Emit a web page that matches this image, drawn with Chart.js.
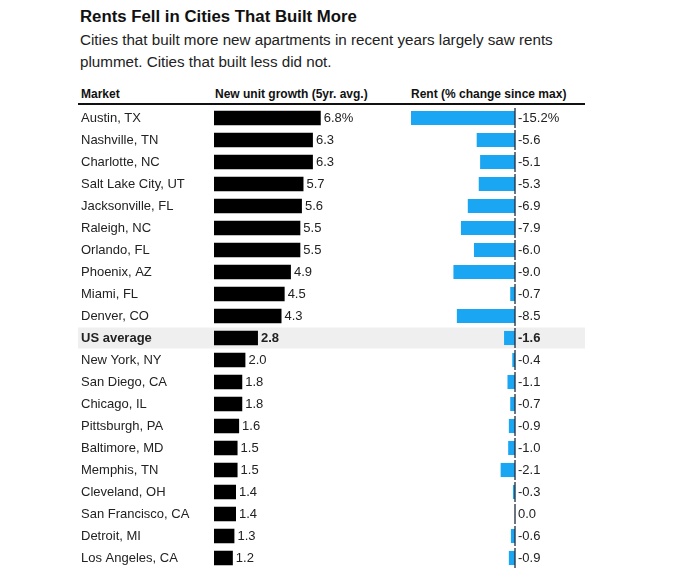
<!DOCTYPE html>
<html>
<head>
<meta charset="utf-8">
<script src="https://cdn.jsdelivr.net/npm/chart.js@4"></script>
<style>
body{margin:0;width:680px;height:568px;overflow:hidden;background:#fff;font-family:"Liberation Sans",Arial,sans-serif;color:#111;position:relative}
#titulo{position:absolute;left:80px;top:7px;font-size:16.8px;font-weight:bold;white-space:nowrap}
#subtitulo{position:absolute;left:80px;top:29px;font-size:15.2px;line-height:22px;width:520px;color:#222}
.cab{position:absolute;top:87px;font-size:12px;font-weight:bold;white-space:nowrap}
#linea{position:absolute;left:78px;top:103px;width:507px;height:2px;background:#111}
#grafico{position:absolute;left:0;top:107px;width:680px;height:462px}
</style>
</head>
<body>
<div id="titulo">Rents Fell in Cities That Built More</div>
<div id="subtitulo">Cities that built more new apartments in recent years largely saw rents plummet. Cities that built less did not.</div>
<div class="cab" style="left:81px">Market</div>
<div class="cab" style="left:215px">New unit growth (5yr. avg.)</div>
<div class="cab" style="left:411px">Rent (% change since max)</div>
<div id="linea"></div>
<div id="grafico"><canvas id="bar-chart"></canvas></div>
<script>
var mercados=['Austin, TX','Nashville, TN','Charlotte, NC','Salt Lake City, UT','Jacksonville, FL','Raleigh, NC','Orlando, FL','Phoenix, AZ','Miami, FL','Denver, CO','US average','New York, NY','San Diego, CA','Chicago, IL','Pittsburgh, PA','Baltimore, MD','Memphis, TN','Cleveland, OH','San Francisco, CA','Detroit, MI','Los Angeles, CA'];
var crecimiento=[6.8,6.3,6.3,5.7,5.6,5.5,5.5,4.9,4.5,4.3,2.8,2.0,1.8,1.8,1.6,1.5,1.5,1.4,1.4,1.3,1.2];
var renta=[-15.2,-5.6,-5.1,-5.3,-6.9,-7.9,-6.0,-9.0,-0.7,-8.5,-1.6,-0.4,-1.1,-0.7,-0.9,-1.0,-2.1,-0.3,0.0,-0.6,-0.9];
var filaPromedio=10;

var fuente='"Liberation Sans", Arial, sans-serif';

// fondo gris de la fila promedio, linea cero y etiquetas de valor
var extras={
  id:'extras',
  beforeDraw:function(chart){
    var ctx=chart.ctx, y=chart.scales.y;
    var yc=y.getPixelForValue(filaPromedio);
    ctx.save();
    ctx.fillStyle='#efefef';
    ctx.fillRect(78,yc-10.5,507,21);
    ctx.restore();
  },
  afterDatasetsDraw:function(chart){
    var ctx=chart.ctx, y=chart.scales.y, x1=chart.scales.x1, x2=chart.scales.x2;
    var x0=x2.getPixelForValue(0);
    ctx.save();
    ctx.strokeStyle='#1d2b3a';
    ctx.lineWidth=1.3;
    for(var i=0;i<mercados.length;i++){
      var yc=y.getPixelForValue(i);
      ctx.beginPath();ctx.moveTo(x0,yc-10);ctx.lineTo(x0,yc+10);ctx.stroke();
    }
    ctx.textBaseline='middle';
    ctx.textAlign='left';
    ctx.fillStyle='#222';
    for(var i=0;i<mercados.length;i++){
      var yc=y.getPixelForValue(i)+0.5;
      ctx.font=(i==filaPromedio?'bold ':'')+'13px '+fuente;
      var t1=crecimiento[i].toFixed(1)+(i==0?'%':'');
      var t2=renta[i].toFixed(1)+(i==0?'%':'');
      ctx.fillText(t1,x1.getPixelForValue(crecimiento[i])+3,yc);
      ctx.fillText(t2,x0+3,yc);
    }
    ctx.restore();
  }
};

var barra=new Chart(document.getElementById('bar-chart'),{
  type:'bar',
  data:{
    labels:mercados,
    datasets:[
      {label:'New unit growth',data:crecimiento,xAxisID:'x1',backgroundColor:'#000',barPercentage:0.66,categoryPercentage:1,grouped:false},
      {label:'Rent change',data:renta,xAxisID:'x2',backgroundColor:'#1ba6f3',barPercentage:0.64,categoryPercentage:1,grouped:false}
    ]
  },
  options:{
    indexAxis:'y',
    responsive:true,
    maintainAspectRatio:false,
    animation:false,
    layout:{padding:{left:81,right:95,top:0,bottom:0}},
    plugins:{legend:{display:false},tooltip:{enabled:false}},
    scales:{
      y:{
        grid:{display:false,drawTicks:false},
        border:{display:false},
        ticks:{
          crossAlign:'far',padding:0,color:'#222',
          font:function(c){return {family:fuente,size:13,weight:c.index==filaPromedio?'bold':'normal'};}
        },
        afterFit:function(s){s.width=133;s.paddingTop=0;s.paddingBottom=0;}
      },
      x1:{
        type:'linear',position:'bottom',stack:'cols',stackWeight:181,
        min:0,max:11.53,
        grid:{display:false,drawTicks:false},border:{display:false},ticks:{display:false},
        afterFit:function(s){s.height=0;}
      },
      x2:{
        type:'linear',position:'bottom',stack:'cols',stackWeight:190,
        min:-17.54,max:10.23,
        grid:{display:false,drawTicks:false},border:{display:false},ticks:{display:false},
        afterFit:function(s){s.height=0;}
      }
    }
  },
  plugins:[extras]
});
</script>
</body>
</html>
